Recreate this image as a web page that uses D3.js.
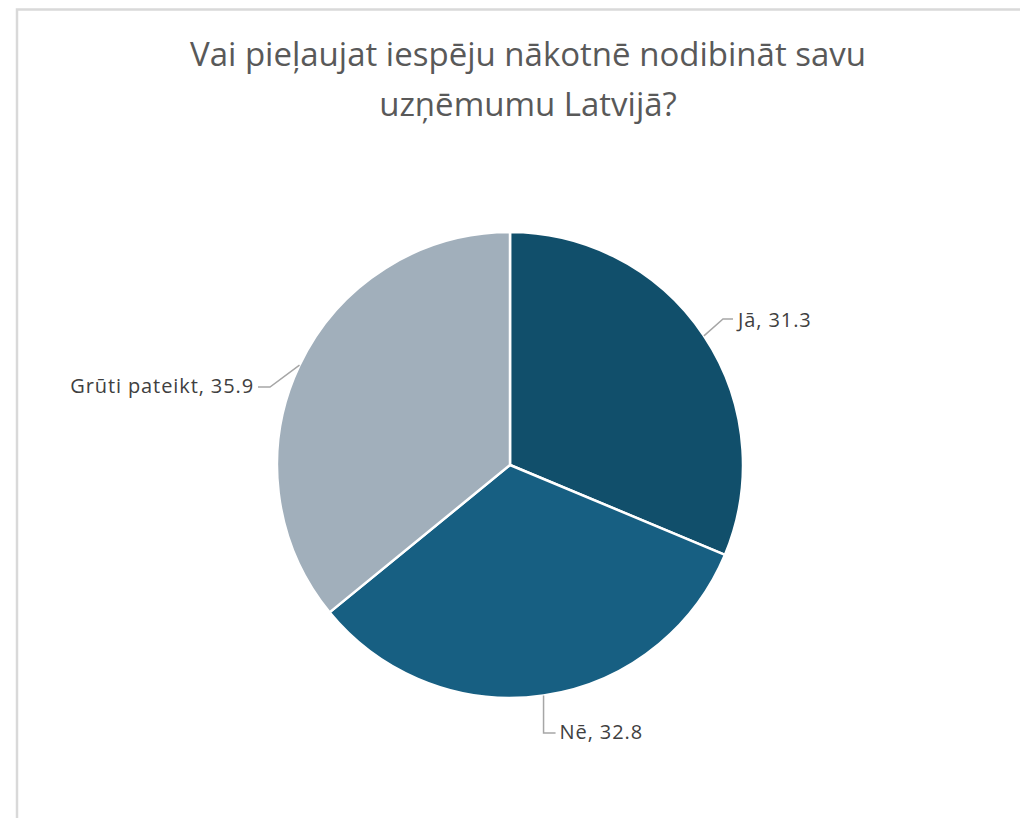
<!DOCTYPE html>
<html>
<head>
<meta charset="utf-8">
<script src="https://cdn.jsdelivr.net/npm/d3@7"></script>
<style>
  body { margin: 0; background: #fff; }
  svg { display: block; }
</style>
</head>
<body>
<div id="chart"></div>
<script>
// data
var categories = ["Jā", "Nē", "Grūti pateikt"];
var values = [31.3, 32.8, 35.9];
var colors = ["#114f6b", "#175f82", "#a1afbb"];
var titleLines = ["Vai pieļaujat iespēju nākotnē nodibināt savu", "uzņēmumu Latvijā?"];

var svgWidth = 1020;
var svgHeight = 818;

var cx = 510, cy = 465, radius = 233;

var svg = d3.select("#chart")
  .append("svg")
  .attr("width", svgWidth)
  .attr("height", svgHeight);

// chart area border (only top + left visible)
svg.append("rect")
  .attr("x", 17)
  .attr("y", 9.5)
  .attr("width", 1100)
  .attr("height", 900)
  .attr("fill", "none")
  .attr("stroke", "#d9d9d9")
  .attr("stroke-width", 2.5);

// title
svg.append("g")
  .selectAll("text")
  .data(titleLines)
  .enter()
  .append("text")
  .attr("x", 528)
  .attr("y", (d, i) => 66 + i * 50)
  .attr("text-anchor", "middle")
  .attr("font-family", "'Open Sans', sans-serif")
  .attr("font-size", "33px")
  .attr("fill", "#595959")
  .text(d => d);

var data = categories.map((c, i) => ({ name: c, value: values[i], color: colors[i] }));

var pie = d3.pie()
  .sort(null)
  .value(d => d.value);

var arc = d3.arc()
  .innerRadius(0)
  .outerRadius(radius);

var chartGroup = svg.append("g")
  .attr("transform", `translate(${cx}, ${cy})`);

var arcs = pie(data);

chartGroup.selectAll("path")
  .data(arcs)
  .enter()
  .append("path")
  .attr("d", arc)
  .attr("fill", d => d.data.color)
  .attr("stroke", "#fff")
  .attr("stroke-width", 2.5)
  .attr("stroke-linejoin", "round");

// leader layout per slice: elbow point, leader end, text position (relative to center)
var labelLayout = [
  { elbow: [213, -146], end: [223, -146], text: [228, -145], anchor: "start" },
  { elbow: null, end: [45, 268], text: [49, 267], anchor: "start" },
  { elbow: [-240, -78], end: [-252, -78], text: [-256, -79], anchor: "end" }
];

arcs.forEach(function(d, i) {
  var mid = (d.startAngle + d.endAngle) / 2;
  var start = [Math.sin(mid) * radius, -Math.cos(mid) * radius];
  var L = labelLayout[i];
  var elbow = L.elbow || [start[0], L.end[1]];
  var end = L.elbow ? L.end : [start[0] + 12, L.end[1]];

  chartGroup.append("polyline")
    .attr("points", [start, elbow, end].map(p => p.join(",")).join(" "))
    .attr("fill", "none")
    .attr("stroke", "#a6a6a6")
    .attr("stroke-width", 1.5);

  chartGroup.append("text")
    .attr("x", L.elbow ? L.text[0] : end[0] + 4)
    .attr("y", L.text[1])
    .attr("dy", "0.35em")
    .attr("text-anchor", L.anchor)
    .attr("font-family", "'Open Sans', sans-serif")
    .attr("font-size", "20px")
    .attr("letter-spacing", "0.9px")
    .attr("fill", "#404040")
    .text(d.data.name + ", " + d.data.value);
});
</script>
</body>
</html>
